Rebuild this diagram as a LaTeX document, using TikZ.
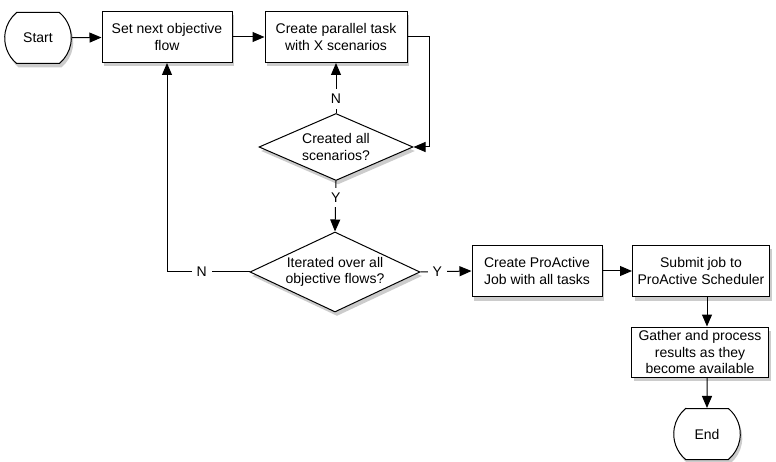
\documentclass[tikz,border=0pt]{standalone}
\usepackage{fontspec}
\setmainfont{Liberation Sans}
\usetikzlibrary{arrows.meta,shapes.geometric,shapes.misc,shadows}

\tikzset{
  shade/.style={drop shadow={opacity=0.4,shadow xshift=2pt,shadow yshift=-4pt}},
  box/.style={draw,fill=white,line width=1pt,align=center,inner sep=1pt,
    minimum width=130pt,minimum height=51pt,shade},
  term/.style={draw,fill=white,line width=1pt,rounded rectangle,
    rounded rectangle arc length=100,minimum width=56pt,minimum height=51pt,shade},
  dec/.style={draw,fill=white,line width=1pt,diamond,align=center,inner sep=0pt,shade},
  yn/.style={fill=white,inner sep=5pt},
  arr/.style={line width=1pt,-{Triangle[length=12pt,width=10pt]}},
}

\begin{document}
\begin{tikzpicture}[x=1pt,y=-1pt,font=\fontsize{14}{16.5}\selectfont]
  \useasboundingbox (0,0) rectangle (776,462);
  \node[term] (st) at (38,38) {Start};
  \node[box] (nf) at (167,37) {Set next objective\\flow};
  \node[box,minimum width=142pt] (pt) at (336,37) {Create parallel task\\with X scenarios};
  \node[dec,aspect=2.3,minimum width=154pt,minimum height=67pt] (cs) at (336,147) {Created all\\scenarios?};
  \node[dec,aspect=2.12,minimum width=170pt,minimum height=80pt] (it) at (335,272) {Iterated over all\\objective flows?};
  \node[box] (cj) at (537,271) {Create ProActive\\Job with all tasks};
  \node[box,minimum width=137pt] (sj) at (701,271) {Submit job to\\ProActive Scheduler};
  \node[box,minimum width=137pt,minimum height=50pt] (gr) at (700,352) {Gather and process\\results as they\\become available};
  \node[term] (en) at (707,434) {End};

  \draw[arr] (st) -- (nf);
  \draw[arr] (nf) -- (pt);
  \draw[arr] (pt.east) -- ++(22,0) |- (cs.east);
  \draw[arr] (cs.north) -- node[yn,pos=0.28] {N} (pt.south);
  \draw[arr] (cs.south) -- node[yn,pos=0.33] {Y} (it.north);
  \draw[arr] (it.west) -| node[yn,pos=0.29] {N} (nf.south);
  \draw[arr] (it.east) -- node[yn,pos=0.33] {Y} (cj.west);
  \draw[arr] (cj) -- (sj);
  \draw[arr] (sj.south -| en) -- (gr.north -| en);
  \draw[arr] (gr.south -| en) -- (en);
\end{tikzpicture}
\end{document}
